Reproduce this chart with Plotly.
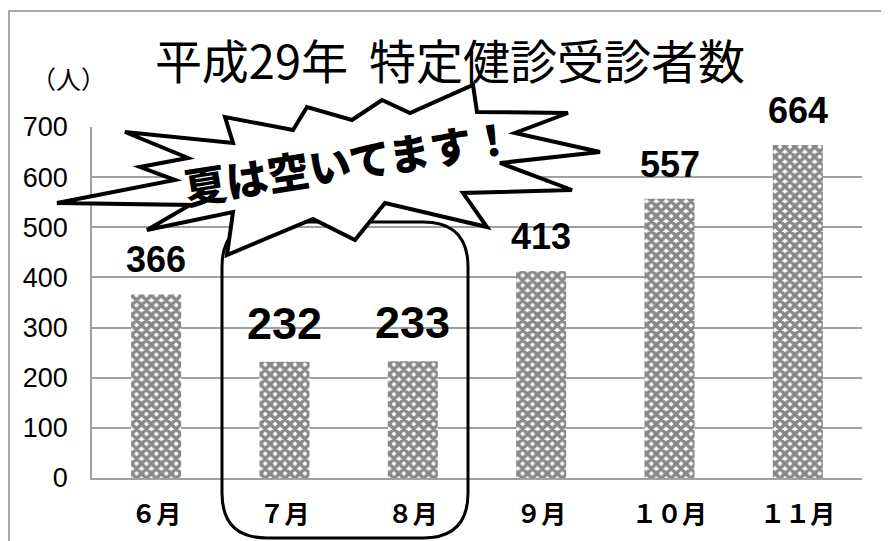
import plotly.graph_objects as go

# ---- data ----
months = ["６月", "７月", "８月", "９月", "１０月", "１１月"]
counts = [366, 232, 233, 413, 557, 664]
y_ticks = [0, 100, 200, 300, 400, 500, 600, 700]
title_text = "平成29年\u00a0\u00a0特定健診受診者数"
unit_text = "（人）"
callout_text = "夏は空いてます！"
highlight_months = ["７月", "８月"]

# ---- layout geometry ----
# the page body has an 8px margin, so the figure starts at (8, 8) in the picture
OFF = 8
W, H = 889 - OFF, 541 - OFF
PLOT_X0, PLOT_X1 = 92, 862      # plot area in picture pixels
PLOT_Y0, PLOT_Y1 = 127, 478
L = PLOT_X0 - OFF
T = PLOT_Y0 - OFF
PW = PLOT_X1 - PLOT_X0
PH = PLOT_Y1 - PLOT_Y0
R = W - L - PW
B = H - T - PH


def px(x):
    return (x - PLOT_X0) / PW


def py(y):
    return (PLOT_Y1 - y) / PH


def P(x, y):
    return f"{px(x):.5f},{py(y):.5f}"


# starburst outline (picture pixel coordinates of the decoration)
burst = [(57, 203), (175, 180), (140, 167), (188, 158), (125, 132), (233, 143),
         (225, 117), (293, 130), (307, 107), (352, 120), (382, 100), (410, 113),
         (473, 85), (477, 112), (568, 113), (515, 133), (600, 152), (500, 163),
         (572, 190), (463, 193), (487, 227), (385, 203), (355, 240), (313, 219),
         (227, 255), (233, 212), (147, 230), (190, 205)]
burst_path = "M " + " L ".join(P(x, y) for x, y in burst) + " Z"

# rounded rectangle around July/August
rl, rr, rt, rb, rad = 222, 468, 222, 538, 45
rect_path = (f"M {P(rl+rad, rt)} L {P(rr-rad, rt)} Q {P(rr, rt)} {P(rr, rt+rad)} "
             f"L {P(rr, rb-rad)} Q {P(rr, rb)} {P(rr-rad, rb)} "
             f"L {P(rl+rad, rb)} Q {P(rl, rb)} {P(rl, rb-rad)} "
             f"L {P(rl, rt+rad)} Q {P(rl, rt)} {P(rl+rad, rt)} Z")

frame_path = f"M {P(9, 560)} L {P(9, 11)} L {P(900, 11)}"

fig = go.Figure()
fig.add_trace(go.Bar(
    x=months, y=counts, width=0.39,
    marker=dict(color="white", line=dict(width=0),
                pattern=dict(shape="x", fgcolor="#111111", bgcolor="white",
                             size=7, solidity=0.75)),
    hoverinfo="skip",
))

annotations = []
for m, v in zip(months, counts):
    big = m in highlight_months
    annotations.append(dict(
        x=m, y=v, xref="x", yref="y", text=str(v), showarrow=False,
        yanchor="bottom", yshift=11 if big else 12,
        font=dict(family="Liberation Sans, Arial", size=45 if big else 36,
                  color="black", weight="bold"),
    ))

annotations.append(dict(
    x=px(68), y=py(78), xref="paper", yref="paper", text=unit_text,
    showarrow=False, xanchor="center", yanchor="middle",
    font=dict(family="Noto Sans CJK JP", size=25, color="black"),
))
annotations.append(dict(
    x=px(348), y=py(160), xref="paper", yref="paper", text=callout_text,
    showarrow=False, xanchor="center", yanchor="middle", textangle=-9,
    font=dict(family="Noto Sans CJK JP", size=42, color="black", weight=900),
))

shapes = [
    dict(type="path", path=frame_path, xref="paper", yref="paper",
         line=dict(color="#8c8c8c", width=1.5), layer="below"),
    dict(type="path", path=rect_path, xref="paper", yref="paper",
         line=dict(color="black", width=3), fillcolor="rgba(0,0,0,0)", layer="above"),
    dict(type="path", path=burst_path, xref="paper", yref="paper",
         line=dict(color="black", width=4), fillcolor="white", layer="above"),
]

fig.update_layout(
    width=W, height=H,
    margin=dict(l=L, r=R, t=T, b=B, autoexpand=False),
    paper_bgcolor="white", plot_bgcolor="white",
    showlegend=False,
    title=dict(text=title_text, x=(450 - OFF) / W, xanchor="center",
               y=1 - (63 - OFF) / H, yanchor="middle", automargin=False,
               font=dict(family="Noto Sans CJK JP", size=47, color="black")),
    annotations=annotations,
    shapes=shapes,
    bargap=0.61,
)
fig.update_xaxes(
    showline=True, linecolor="#a0a0a0", linewidth=1.5, automargin=False,
    tickfont=dict(family="Noto Sans CJK JP", size=25, color="black", weight="bold"),
    ticks="", ticklabelstandoff=13, showgrid=False,
)
fig.update_yaxes(
    range=[0, 700], tickvals=y_ticks, ticktext=[str(t) for t in y_ticks],
    showline=True, linecolor="#a0a0a0", linewidth=1.5, automargin=False,
    showgrid=True, gridcolor="#a0a0a0", gridwidth=1.5,
    zeroline=False,
    tickfont=dict(family="Liberation Sans, Arial", size=27, color="black"),
    ticks="", ticklabelstandoff=17,
)

fig.write_html("out.html")
